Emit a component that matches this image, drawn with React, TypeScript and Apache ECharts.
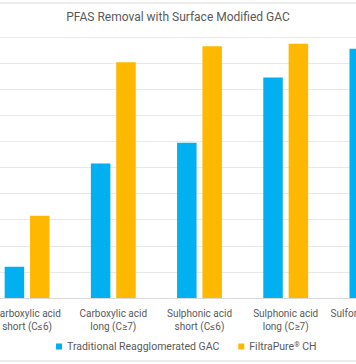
import React, { useEffect, useRef } from "react";
import * as echarts from "echarts";

const categories = [
  "Carboxylic acid\nshort (C≤6)",
  "Carboxylic acid\nlong (C≥7)",
  "Sulphonic acid\nshort (C≤6)",
  "Sulphonic acid\nlong (C≥7)",
  "Sulfonamide acids",
];
const traditionalGAC = [12, 51.5, 59.5, 84.5, 95.5];
const filtraPure = [31.5, 90.3, 96.5, 97.4, 97];
const seriesNames = ["Traditional Reagglomerated GAC", "FiltraPure® CH"];

export default function App() {
  const ref = useRef<HTMLDivElement>(null);
  useEffect(() => {
    if (!ref.current) return;
    const chart = echarts.init(ref.current, undefined, { renderer: "svg" });
    const font = "Roboto, 'Noto Sans', sans-serif";
    chart.setOption({
      animation: false,
      backgroundColor: "#ffffff",
      textStyle: { fontFamily: font },
      title: {
        text: "PFAS Removal with Surface Modified GAC",
        left: "center",
        top: 11,
        padding: 0,
        textStyle: { fontSize: 12, fontWeight: "normal", color: "#595959", fontFamily: font },
      },
      legend: {
        data: seriesNames,
        top: 341,
        left: 56,
        icon: "rect",
        itemWidth: 6,
        itemHeight: 6,
        itemGap: 19,
        padding: 0,
        formatter: (name: string) => name.replace("®", "{sup|®}"),
        textStyle: {
          fontSize: 10.5,
          color: "#595959",
          fontFamily: font,
          rich: {
            sup: { fontSize: 7, color: "#595959", verticalAlign: "top", padding: [0, 0, 4, 0] },
          },
        },
      },
      graphic: [
        {
          type: "rect",
          shape: { x: -20, y: 3, width: 400, height: 358 },
          style: { fill: "none", stroke: "#d9d9d9", lineWidth: 1 },
          silent: true,
        },
      ],
      grid: {
        left: -16,
        right: -59,
        top: 37,
        bottom: 66,
        outerBoundsMode: "none",
        containLabel: false,
      },
      xAxis: {
        type: "category",
        data: categories,
        axisTick: { show: false },
        axisLine: { lineStyle: { color: "#d9d9d9" } },
        axisLabel: {
          interval: 0,
          fontSize: 10,
          lineHeight: 13,
          color: "#595959",
          margin: 9,
          fontFamily: font,
        },
      },
      yAxis: {
        type: "value",
        min: 0,
        max: 100,
        interval: 10,
        axisLabel: { show: false },
        axisLine: { show: false },
        axisTick: { show: false },
        splitLine: { lineStyle: { color: "#e8e8e8" } },
      },
      series: [
        {
          name: seriesNames[0],
          type: "bar",
          data: traditionalGAC,
          barWidth: 19.5,
          barGap: "30%",
          itemStyle: { color: "#00B0F0" },
        },
        {
          name: seriesNames[1],
          type: "bar",
          data: filtraPure,
          barWidth: 19.5,
          barGap: "30%",
          itemStyle: { color: "#FFB800" },
        },
      ],
    });
    return () => chart.dispose();
  }, []);
  return (
    <div
      ref={ref}
      style={{ position: "fixed", left: 0, top: 0, width: 356, height: 364, overflow: "hidden" }}
    />
  );
}
